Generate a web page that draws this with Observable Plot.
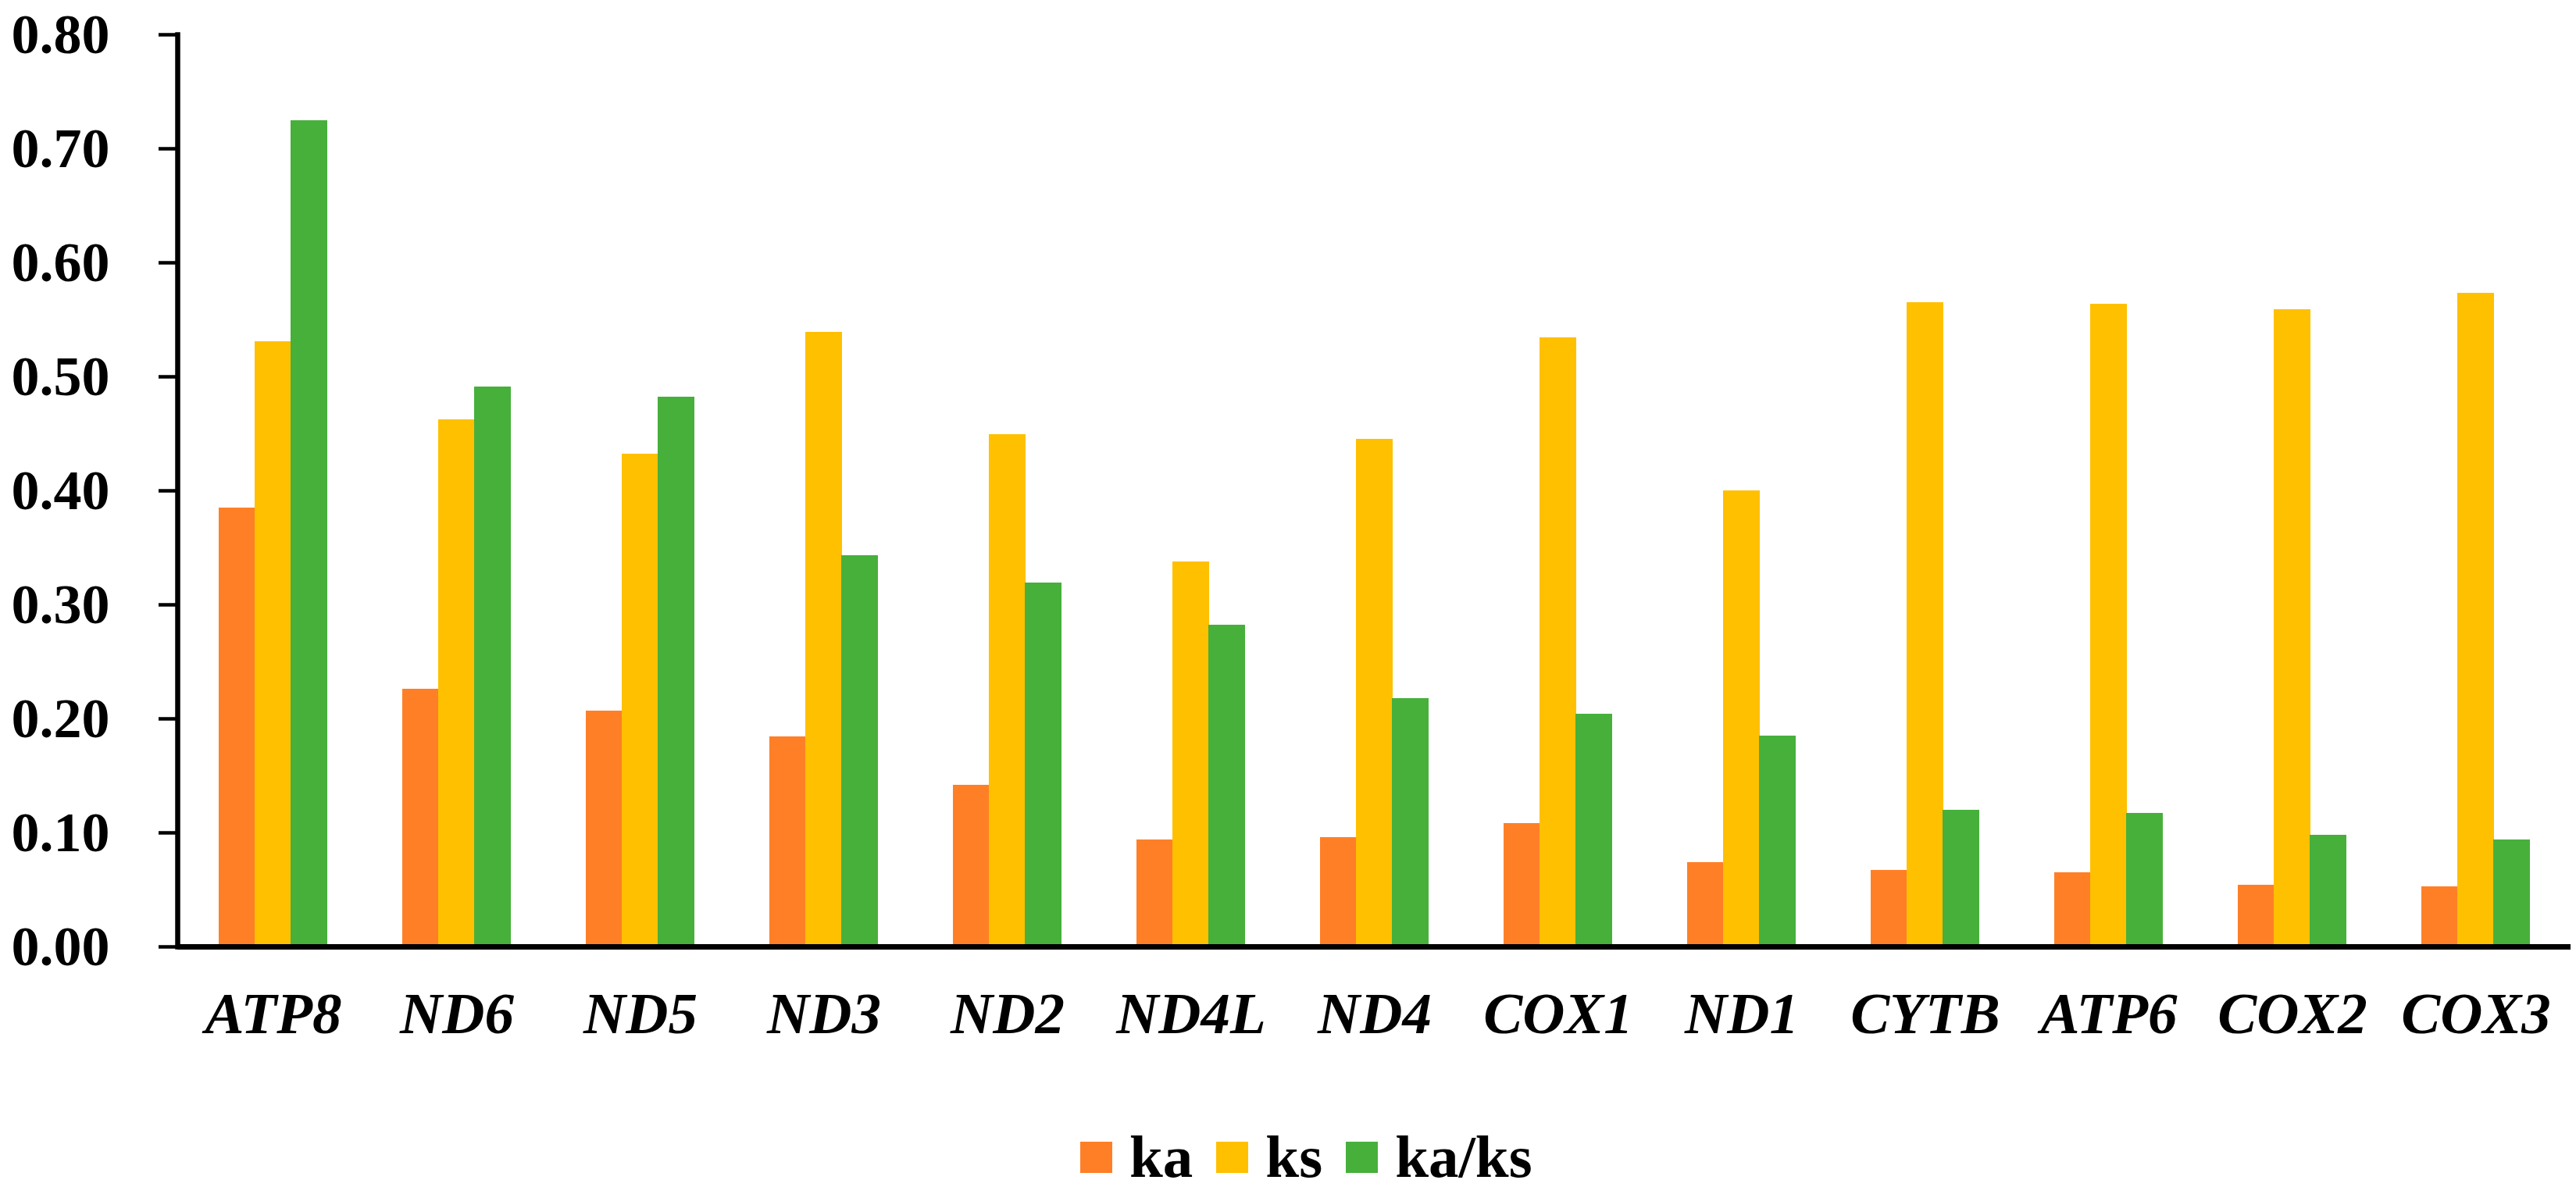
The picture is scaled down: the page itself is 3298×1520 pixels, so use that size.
<!DOCTYPE html>
<html>
<head>
<meta charset="utf-8">
<script src="https://cdn.jsdelivr.net/npm/d3@7"></script>
<script src="https://cdn.jsdelivr.net/npm/@observablehq/plot@0.6"></script>
<style>
  html, body { margin: 0; padding: 0; background: #fff; }
  #wrap { position: relative; width: 3298px; height: 1520px; background: #fff; }
  #legend {
    position: absolute; left: 1383px; top: 1443px; height: 77px;
    display: flex; align-items: center;
    font-family: "Liberation Serif", "Times New Roman", serif; font-weight: bold;
    font-size: 77px; line-height: 77px; color: #000;
  }
  #legend .sw { width: 41px; height: 40px; margin-right: 22px; }
  #legend .lb { margin-right: 30px; }
</style>
</head>
<body>
<div id="wrap">
  <div id="chart"></div>
  <div id="legend"></div>
</div>
<script>
const genes = ["ATP8", "ND6", "ND5", "ND3", "ND2", "ND4L", "ND4", "COX1", "ND1", "CYTB", "ATP6", "COX2", "COX3"];
const ka   = [0.385, 0.226, 0.207, 0.184, 0.142, 0.094, 0.096, 0.108, 0.074, 0.067, 0.065, 0.054, 0.053];
const ks   = [0.531, 0.462, 0.432, 0.539, 0.449, 0.338, 0.445, 0.534, 0.400, 0.565, 0.564, 0.559, 0.573];
const kaks = [0.725, 0.491, 0.482, 0.343, 0.319, 0.282, 0.218, 0.204, 0.185, 0.120, 0.117, 0.098, 0.094];
const yTicks = [0, 0.1, 0.2, 0.3, 0.4, 0.5, 0.6, 0.7, 0.8];
const seriesNames = ["ka", "ks", "ka/ks"];
const seriesColors = ["#FF7F27", "#FFC000", "#46B03B"];

const rows = genes.map((g, i) => ({gene: g, ka: ka[i], ks: ks[i], kaks: kaks[i]}));

const W = 3298, H = 1400;
const mL = 227, mR = 7, mT = 44, mB = 188;
const step = (W - mL - mR) / genes.length;
const barW = 46;
const inset = (step - barW) / 2;
const font = "'Liberation Serif', 'Times New Roman', serif";

const keys = ["ka", "ks", "kaks"];
const bars = keys.map((k, j) => Plot.barY(rows, {
  x: "gene", y: k, fill: seriesColors[j],
  insetLeft: inset - 0.5, insetRight: inset - 0.5, dx: (j - 1) * barW,
  shapeRendering: "crispEdges"
}));

const chart = Plot.plot({
  width: W, height: H,
  marginLeft: mL, marginRight: mR, marginTop: mT, marginBottom: mB,
  style: {background: "#fff", fontFamily: font, fontWeight: "bold", color: "#000"},
  x: {type: "band", domain: genes, padding: 0, label: null},
  y: {domain: [0, 0.8], label: null},
  marks: [
    ...bars,
    Plot.axisY({ticks: yTicks, tickFormat: d3.format(".2f"), tickSize: 24, tickPadding: 63,
      strokeWidth: 4.5, fontSize: 72, fontFamily: font, fontWeight: "bold", label: null}),
    Plot.axisX({tickSize: 0, tickPadding: 57, fontSize: 75, fontFamily: font,
      fontWeight: "bold", fontStyle: "italic", label: null}),
    Plot.frame({anchor: "left", strokeWidth: 6.5, stroke: "#000"}),
    Plot.ruleY([0], {strokeWidth: 7, stroke: "#000"})
  ]
});
document.getElementById("chart").appendChild(chart);

const legend = document.getElementById("legend");
seriesNames.forEach((name, j) => {
  const sw = document.createElement("span");
  sw.className = "sw"; sw.style.background = seriesColors[j];
  const lb = document.createElement("span");
  lb.className = "lb"; lb.textContent = name;
  legend.appendChild(sw); legend.appendChild(lb);
});
</script>
</body>
</html>
